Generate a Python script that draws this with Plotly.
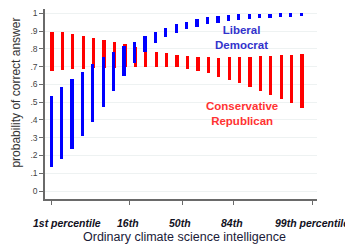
import plotly.graph_objects as go

# positions of the 25 bars along the OCSI scale (bar index)
bar_pos = list(range(25))

red_low = [0.678, 0.683, 0.686, 0.687, 0.691, 0.695, 0.695, 0.697, 0.697, 0.700,
           0.700, 0.699, 0.698, 0.687, 0.676, 0.663, 0.644, 0.625, 0.607, 0.584,
           0.565, 0.541, 0.518, 0.497, 0.469]
red_high = [0.897, 0.894, 0.883, 0.873, 0.860, 0.849, 0.838, 0.828, 0.813, 0.798,
            0.785, 0.776, 0.764, 0.761, 0.757, 0.753, 0.751, 0.757, 0.757, 0.757,
            0.761, 0.761, 0.764, 0.766, 0.772]
blue_low = [0.133, 0.178, 0.238, 0.310, 0.391, 0.475, 0.565, 0.648, 0.723, 0.785,
            0.832, 0.866, 0.892, 0.913, 0.926, 0.939, 0.948, 0.956, 0.963, 0.969,
            0.973, 0.976, 0.978, 0.982, 0.984]
blue_high = [0.537, 0.584, 0.629, 0.672, 0.714, 0.753, 0.785, 0.819, 0.841, 0.873,
             0.897, 0.920, 0.941, 0.954, 0.967, 0.978, 0.986, 0.992, 0.995, 0.997,
             0.998, 0.999, 1.000, 1.000, 1.000]

x_tick_vals = [0, 7.39, 12.48, 17.37, 24.95]
x_tick_labels = ["1st percentile", "16th", "50th", "84th", "99th percentile"]
x_label_pos = [1.44, 7.3, 12.3, 17.3, 24.95]

y_tick_vals = [0, 0.1, 0.2, 0.3, 0.4, 0.5, 0.6, 0.7, 0.8, 0.9, 1.0]
y_tick_labels = ["0", ".1", ".2", ".3", ".4", ".5", ".6", ".7", ".8", ".9", "1"]

fig = go.Figure()
fig.add_trace(go.Bar(
    x=bar_pos, base=red_low, y=[h - l for l, h in zip(red_low, red_high)],
    width=0.31, marker=dict(color="#FF0000", line=dict(width=0)), showlegend=False))
fig.add_trace(go.Bar(
    x=[p - 0.08 for p in bar_pos], base=blue_low,
    y=[h - l for l, h in zip(blue_low, blue_high)],
    width=0.31, marker=dict(color="#0000FF", line=dict(width=0)), showlegend=False))

annotations = []
for pos, txt in zip(x_label_pos, x_tick_labels):
    annotations.append(dict(
        x=pos, y=0, xref="x", yref="paper", yanchor="middle", xanchor="center",
        yshift=-24, text="<b><i>" + txt + "</i></b>", showarrow=False,
        font=dict(family="Liberation Sans", size=10.5, color="#111122")))
annotations.append(dict(
    x=12.7, y=0, xref="x", yref="paper", yanchor="middle", xanchor="center",
    yshift=-38, text="Ordinary climate science intelligence", showarrow=False,
    font=dict(family="Liberation Sans", size=12.5, color="#1a1a38")))
annotations.append(dict(
    x=-0.108, y=0.558, xref="paper", yref="paper", xanchor="center", yanchor="middle",
    text="probability of correct answer", textangle=-90, showarrow=False,
    font=dict(family="Liberation Sans", size=12, color="#333333")))
annotations.append(dict(
    x=18.2, y=0.865, xref="x", yref="y", text="<b>Liberal<br>Democrat</b>",
    showarrow=False, font=dict(family="Liberation Sans", size=11.5, color="#3333CC")))
annotations.append(dict(
    x=18.2, y=0.437, xref="x", yref="y", text="<b>Conservative<br>Republican</b>",
    showarrow=False, font=dict(family="Liberation Sans", size=11.5, color="#FF3333")))

# the page body has an 8px default margin, so the figure is sized to fit the window
fig.update_layout(
    width=345, height=237,
    margin=dict(l=37, r=36, t=1, b=46, autoexpand=False),
    plot_bgcolor="white", paper_bgcolor="white",
    barmode="overlay", bargap=0,
    annotations=annotations,
    xaxis=dict(range=[-0.67, 25.43], tickvals=x_tick_vals, ticktext=[""] * 5,
               showgrid=False, zeroline=False, showline=True, linecolor="#6a6a6a",
               linewidth=1.5, ticks="outside", ticklen=4, tickcolor="#6a6a6a",
               automargin=False),
    yaxis=dict(range=[-0.045, 1.025], tickvals=y_tick_vals, ticktext=y_tick_labels,
               showgrid=True, gridcolor="#EEF2F2", gridwidth=1, zeroline=False,
               showline=True, linecolor="#6a6a6a", linewidth=1.5,
               ticks="outside", ticklen=4, tickcolor="#6a6a6a", automargin=False,
               tickfont=dict(family="Liberation Sans", size=8.5, color="#444444")),
)

fig.write_html("out.html")
